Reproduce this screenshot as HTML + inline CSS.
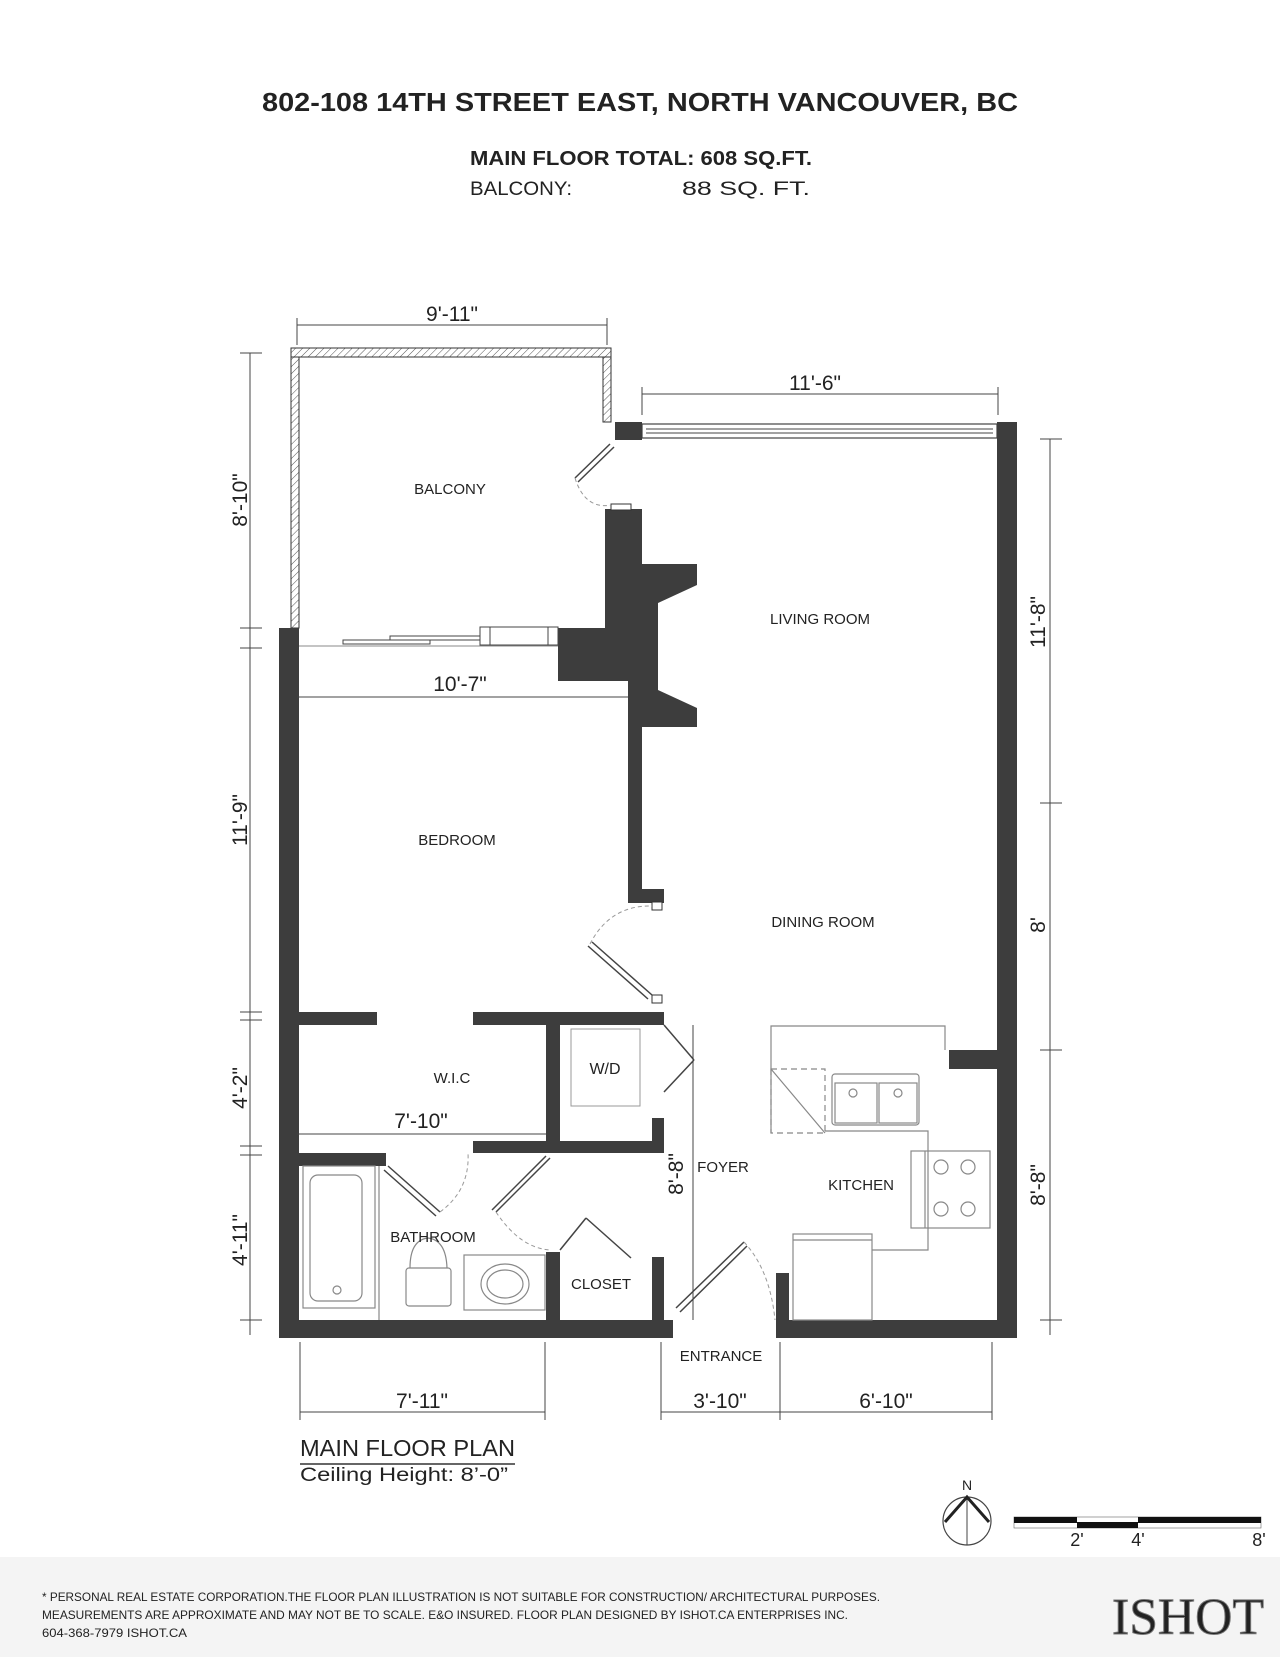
<!DOCTYPE html>
<html><head><meta charset="utf-8"><style>
html,body{margin:0;padding:0;background:#fff}
svg{display:block}
text{font-family:"Liberation Sans",sans-serif;fill:#222}
</style></head><body>
<svg width="1280" height="1657" viewBox="0 0 1280 1657" xmlns="http://www.w3.org/2000/svg">
<defs>
<pattern id="hatch" width="5" height="5" patternUnits="userSpaceOnUse" patternTransform="rotate(45)">
<line x1="0" y1="0" x2="0" y2="5" stroke="#555" stroke-width="1"/></pattern>
</defs>
<rect width="1280" height="1657" fill="#fff"/>
<!-- header -->
<text x="640" y="111" text-anchor="middle" font-size="26" font-weight="bold" textLength="756" lengthAdjust="spacingAndGlyphs">802-108 14TH STREET EAST, NORTH VANCOUVER, BC</text>
<text x="470" y="165" font-size="20" font-weight="bold" textLength="342" lengthAdjust="spacingAndGlyphs">MAIN FLOOR TOTAL: 608 SQ.FT.</text>
<text x="470" y="195" font-size="19" textLength="102" lengthAdjust="spacingAndGlyphs">BALCONY:</text>
<text x="682" y="195" font-size="19" textLength="128" lengthAdjust="spacingAndGlyphs">88 SQ. FT.</text>

<!-- balcony outline hatched -->
<g fill="url(#hatch)" stroke="#333" stroke-width="1">
<rect x="291" y="348" width="320" height="9"/>
<rect x="291" y="357" width="8" height="271"/>
<rect x="603" y="357" width="8" height="65"/>
</g>
<!-- window top -->
<rect x="642" y="424" width="355" height="14" fill="#fff" stroke="#444" stroke-width="1.2"/>
<line x1="646" y1="429" x2="993" y2="429" stroke="#444"/>
<line x1="646" y1="433" x2="993" y2="433" stroke="#444"/>
<rect x="615" y="422" width="27" height="18" fill="#3d3d3d"/>
<!-- walls -->
<g fill="#3d3d3d">
<rect x="279" y="628" width="20" height="710"/>
<rect x="279" y="1320" width="394" height="18"/>
<rect x="776" y="1320" width="241" height="18"/>
<rect x="997" y="422" width="20" height="916"/>
<rect x="605" y="509" width="37" height="119"/>
<rect x="558" y="628" width="84" height="53"/>
<rect x="628" y="681" width="14" height="222"/>
<rect x="628" y="889" width="36" height="14"/>
<rect x="642" y="564" width="55" height="163"/>
<rect x="279" y="1012" width="98" height="13"/>
<rect x="473" y="1012" width="191" height="13"/>
<rect x="546" y="1012" width="14" height="134"/>
<rect x="473" y="1141" width="191" height="12"/>
<rect x="279" y="1153" width="107" height="13"/>
<rect x="652" y="1118" width="12" height="30"/>
<rect x="546" y="1252" width="14" height="70"/>
<rect x="652" y="1257" width="12" height="65"/>
<rect x="776" y="1273" width="13" height="50"/>
<rect x="949" y="1050" width="50" height="19"/>
</g>
<!-- fireplace inner -->
<polygon points="697,585 658,603 658,690 697,708" fill="#fff"/>
<rect x="611" y="504" width="20" height="6" fill="#fff" stroke="#333"/>
<rect x="652" y="902" width="10" height="8" fill="#fff" stroke="#333"/>
<rect x="652" y="995" width="10" height="8" fill="#fff" stroke="#333"/>
<!-- sliding door balcony -->
<g fill="#fff" stroke="#444" stroke-width="1">
<rect x="343" y="640" width="87" height="4"/>
<rect x="390" y="636" width="90" height="4"/>
<rect x="480" y="627" width="78" height="18"/>
<line x1="490" y1="627" x2="490" y2="645"/><line x1="548" y1="627" x2="548" y2="645"/>
</g>
<line x1="299" y1="646" x2="558" y2="646" stroke="#888"/>
<!-- doors -->
<g stroke="#444" fill="none" stroke-width="1.5">
<line x1="610" y1="444" x2="575" y2="478"/><line x1="614" y1="447" x2="578" y2="482"/>
<line x1="652" y1="995" x2="592" y2="942"/><line x1="648" y1="999" x2="588" y2="946"/>
<line x1="664" y1="1025" x2="694" y2="1060"/><line x1="694" y1="1060" x2="664" y2="1092"/>
<line x1="388" y1="1166" x2="440" y2="1212"/><line x1="384" y1="1170" x2="436" y2="1216"/>
<line x1="550" y1="1158" x2="496" y2="1212"/><line x1="546" y1="1156" x2="492" y2="1210"/>
<line x1="560" y1="1250" x2="586" y2="1218"/><line x1="586" y1="1218" x2="631" y2="1258"/>
<line x1="676" y1="1308" x2="744" y2="1242"/><line x1="680" y1="1312" x2="747" y2="1246"/>
</g>
<g stroke="#999" fill="none" stroke-width="1" stroke-dasharray="4,3">
<path d="M575 478 Q585 510 612 505"/>
<path d="M590 944 Q610 905 652 906"/>
<path d="M440 1212 Q470 1190 468 1153"/>
<path d="M496 1212 Q520 1248 550 1250"/>
<path d="M744 1242 Q770 1270 775 1320"/>
</g>
<!-- W/D -->
<rect x="571" y="1029" width="69" height="77" fill="#fff" stroke="#999"/>
<text x="605" y="1074" text-anchor="middle" font-size="16" fill="#666">W/D</text>
<!-- kitchen -->
<g stroke="#888" fill="none" stroke-width="1.2">
<polyline points="771,1133 771,1026 945,1026 945,1050"/>
<rect x="771" y="1069" width="54" height="64" stroke-dasharray="6,4"/>
<line x1="771" y1="1069" x2="825" y2="1133"/>
<rect x="832" y="1074" width="87" height="51" rx="3"/>
<rect x="835" y="1083" width="42" height="40"/><rect x="879" y="1083" width="38" height="40"/>
<circle cx="853" cy="1093" r="4"/><circle cx="898" cy="1093" r="4"/>
<polyline points="825,1131 928,1131 928,1250 872,1250"/>
<rect x="911" y="1151" width="79" height="77"/>
<circle cx="941" cy="1167" r="7"/><circle cx="968" cy="1167" r="7"/>
<circle cx="941" cy="1209" r="7"/><circle cx="968" cy="1209" r="7"/>
<line x1="925" y1="1151" x2="925" y2="1228"/>
<rect x="793" y="1234" width="79" height="86"/>
<line x1="793" y1="1240" x2="872" y2="1240"/>
</g>
<!-- bathroom fixtures -->
<g stroke="#888" fill="none" stroke-width="1.2">
<rect x="303" y="1166" width="72" height="142"/>
<rect x="310" y="1175" width="52" height="126" rx="8"/>
<circle cx="337" cy="1290" r="4"/>
<rect x="406" y="1268" width="45" height="38" rx="3"/>
<path d="M410 1268 Q410 1240 428 1238 Q446 1240 447 1268"/>
<rect x="464" y="1255" width="81" height="55"/>
<ellipse cx="505" cy="1284" rx="24" ry="20"/>
<ellipse cx="505" cy="1284" rx="18" ry="14"/>
<line x1="379" y1="1166" x2="379" y2="1320"/>
</g>
<!-- room labels -->
<g font-size="15" text-anchor="middle" fill="#222">
<text x="450" y="494">BALCONY</text>
<text x="820" y="624">LIVING ROOM</text>
<text x="457" y="845">BEDROOM</text>
<text x="823" y="927">DINING ROOM</text>
<text x="452" y="1083">W.I.C</text>
<text x="723" y="1172">FOYER</text>
<text x="861" y="1190">KITCHEN</text>
<text x="433" y="1242">BATHROOM</text>
<text x="601" y="1289">CLOSET</text>
<text x="721" y="1361">ENTRANCE</text>
</g>
<!-- dimension lines -->
<g stroke="#444" stroke-width="1">
<line x1="297" y1="325" x2="607" y2="325"/>
<line x1="297" y1="318" x2="297" y2="345"/><line x1="607" y1="318" x2="607" y2="345"/>
<line x1="642" y1="394" x2="998" y2="394"/>
<line x1="642" y1="387" x2="642" y2="415"/><line x1="998" y1="387" x2="998" y2="415"/>
<line x1="297" y1="697" x2="628" y2="697"/>
<line x1="297" y1="1134" x2="546" y2="1134"/>
<line x1="250" y1="353" x2="250" y2="1335"/>
<line x1="1050" y1="439" x2="1050" y2="1335"/>
<line x1="693" y1="1025" x2="693" y2="1320"/>
<line x1="300" y1="1342" x2="300" y2="1420"/><line x1="545" y1="1342" x2="545" y2="1420"/>
<line x1="661" y1="1342" x2="661" y2="1420"/><line x1="780" y1="1342" x2="780" y2="1420"/>
<line x1="992" y1="1342" x2="992" y2="1420"/>
<line x1="300" y1="1412" x2="545" y2="1412"/><line x1="661" y1="1412" x2="992" y2="1412"/>
<line x1="240" y1="353" x2="262" y2="353"/><line x1="240" y1="628" x2="262" y2="628"/><line x1="240" y1="648" x2="262" y2="648"/>
<line x1="240" y1="1012" x2="262" y2="1012"/><line x1="240" y1="1020" x2="262" y2="1020"/>
<line x1="240" y1="1146" x2="262" y2="1146"/><line x1="240" y1="1155" x2="262" y2="1155"/><line x1="240" y1="1320" x2="262" y2="1320"/>
<line x1="1040" y1="439" x2="1062" y2="439"/><line x1="1040" y1="803" x2="1062" y2="803"/>
<line x1="1040" y1="1050" x2="1062" y2="1050"/><line x1="1040" y1="1320" x2="1062" y2="1320"/>
</g>
<g font-size="21" text-anchor="middle" fill="#222">
<text x="452" y="321">9'-11"</text>
<text x="815" y="390">11'-6"</text>
<text x="460" y="691">10'-7"</text>
<text x="421" y="1128">7'-10"</text>
<text x="422" y="1408">7'-11"</text>
<text x="720" y="1408">3'-10"</text>
<text x="886" y="1408">6'-10"</text>
<text transform="translate(247,500) rotate(-90)">8'-10"</text>
<text transform="translate(247,820) rotate(-90)">11'-9"</text>
<text transform="translate(247,1088) rotate(-90)">4'-2"</text>
<text transform="translate(247,1240) rotate(-90)">4'-11"</text>
<text transform="translate(683,1174) rotate(-90)">8'-8"</text>
<text transform="translate(1045,622) rotate(-90)">11'-8"</text>
<text transform="translate(1045,925) rotate(-90)">8'</text>
<text transform="translate(1045,1185) rotate(-90)">8'-8"</text>
</g>
<!-- title block -->
<text x="300" y="1456" font-size="23" textLength="215" lengthAdjust="spacingAndGlyphs">MAIN FLOOR PLAN</text>
<line x1="300" y1="1464" x2="515" y2="1464" stroke="#333" stroke-width="1.5"/>
<text x="300" y="1481" font-size="19" textLength="208" lengthAdjust="spacingAndGlyphs">Ceiling Height: 8’-0”</text>
<!-- compass -->
<text x="967" y="1490" text-anchor="middle" font-size="14">N</text>
<circle cx="967" cy="1521" r="24" fill="none" stroke="#444" stroke-width="1.2"/>
<line x1="967" y1="1497" x2="967" y2="1545" stroke="#444"/>
<polyline points="945,1522 967,1497 989,1522" fill="none" stroke="#222" stroke-width="3"/>
<!-- scale bar -->
<rect x="1014" y="1517" width="247" height="11" fill="#fff" stroke="#666" stroke-width="0.6"/>
<rect x="1014" y="1517" width="63" height="6" fill="#111"/>
<rect x="1077" y="1522" width="61" height="6" fill="#111"/>
<rect x="1138" y="1517" width="123" height="6" fill="#111"/>
<g font-size="18" text-anchor="middle"><text x="1077" y="1546">2'</text><text x="1138" y="1546">4'</text><text x="1259" y="1546">8'</text></g>
<!-- footer -->
<rect x="0" y="1557" width="1280" height="100" fill="#f4f4f4"/>
<g font-size="12" fill="#222">
<text x="42" y="1601" textLength="838" lengthAdjust="spacingAndGlyphs">* PERSONAL REAL ESTATE CORPORATION.THE FLOOR PLAN ILLUSTRATION IS NOT SUITABLE FOR CONSTRUCTION/ ARCHITECTURAL PURPOSES.</text>
<text x="42" y="1619" textLength="806" lengthAdjust="spacingAndGlyphs">MEASUREMENTS ARE APPROXIMATE AND MAY NOT BE TO SCALE. E&amp;O INSURED. FLOOR PLAN DESIGNED BY ISHOT.CA ENTERPRISES INC.</text>
<text x="42" y="1637" textLength="145" lengthAdjust="spacingAndGlyphs">604-368-7979  ISHOT.CA</text>
</g>
<text x="1112" y="1634" font-size="52" fill="none" stroke="#777" stroke-width="1" textLength="152" lengthAdjust="spacingAndGlyphs" style="font-family:'Liberation Serif',serif">ISHOT</text>
</svg>
</body></html>
